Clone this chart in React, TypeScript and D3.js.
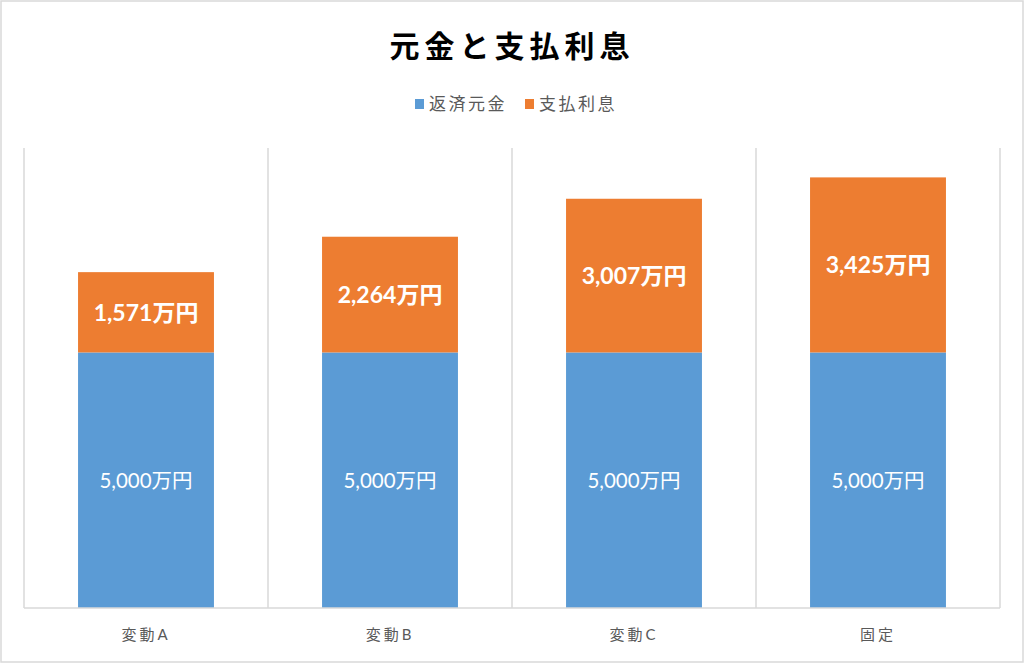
import React from "react";
import * as d3 from "d3";

const categories = ["変動A", "変動B", "変動C", "固定"];
const principal = [5000, 5000, 5000, 5000];
const interest = [1571, 2264, 3007, 3425];
const seriesNames = ["返済元金", "支払利息"];
const yMax = 9000;

const W = 1024;
const H = 663;
const plot = { left: 24, right: 1000, top: 148, bottom: 608 };
const colors = ["#5B9BD5", "#ED7D31"];
const FONT = "Lato, 'Noto Sans CJK JP', sans-serif";
const fmt = d3.format(",");

export default function App() {
  const x = d3
    .scaleBand<string>()
    .domain(categories)
    .range([plot.left, plot.right])
    .paddingInner(0.443)
    .paddingOuter(0.2215);
  const y = d3.scaleLinear().domain([0, yMax]).range([plot.bottom, plot.top]);
  const step = x.step();
  const boundaries = d3.range(categories.length + 1).map((i) => plot.left + i * step);

  const stack = d3
    .stack<number>()
    .keys([0, 1] as any)
    .value((i: number, k: any) => (k === 0 ? principal[i] : interest[i]));
  const stacked = stack(d3.range(categories.length));

  return (
    <div style={{ position: "fixed", left: 0, top: 0 }}>
      <svg width={W} height={H} style={{ display: "block", background: "#fff" }}>
        <rect x={1} y={1} width={W - 2} height={H - 2} fill="#fff" stroke="#D9D9D9" strokeWidth={1.5} />
        <text
          x={W / 2}
          y={57}
          textAnchor="middle"
          fontFamily="'Noto Sans CJK JP', sans-serif"
          fontWeight={700}
          fontSize={30}
          letterSpacing={5}
          fill="#000"
        >
          元金と支払利息
        </text>
        {/* legend */}
        {seriesNames.map((name, i) => {
          const lx = i === 0 ? 415 : 525;
          return (
            <g key={name}>
              <rect x={lx} y={99} width={9} height={10} fill={colors[i]} />
              <text
                x={lx + 14}
                y={110}
                fontFamily="'Noto Sans CJK JP', sans-serif"
                fontSize={17}
                letterSpacing={2.5}
                fill="#595959"
              >
                {name}
              </text>
            </g>
          );
        })}
        {/* gridlines */}
        {boundaries.map((bx, i) => (
          <line key={i} x1={bx} x2={bx} y1={plot.top} y2={plot.bottom} stroke="#D9D9D9" strokeWidth={1.5} />
        ))}
        {/* bars */}
        {stacked.map((s, si) =>
          s.map((d, i) => (
            <rect
              key={`${si}-${i}`}
              x={x(categories[i])}
              y={y(d[1])}
              width={x.bandwidth()}
              height={y(d[0]) - y(d[1])}
              fill={colors[si]}
            />
          ))
        )}
        {/* labels */}
        {stacked.map((s, si) =>
          s.map((d, i) => {
            const v = si === 0 ? principal[i] : interest[i];
            const cy = (y(d[0]) + y(d[1])) / 2;
            return (
              <text
                key={`l${si}-${i}`}
                x={(x(categories[i]) as number) + x.bandwidth() / 2}
                y={cy}
                dy="0.36em"
                textAnchor="middle"
                fontFamily={FONT}
                fontWeight={si === 1 ? 700 : 400}
                fontSize={si === 1 ? 23 : 20.5}
                fill="#fff"
              >
                {fmt(v)}万円
              </text>
            );
          })
        )}
        {/* axis */}
        <line x1={plot.left} x2={plot.right} y1={plot.bottom} y2={plot.bottom} stroke="#D9D9D9" strokeWidth={1.5} />
        {categories.map((c) => (
          <text
            key={c}
            x={(x(c) as number) + x.bandwidth() / 2}
            y={640}
            textAnchor="middle"
            fontFamily={FONT}
            fontSize={15}
            letterSpacing={3}
            fill="#595959"
          >
            {c}
          </text>
        ))}
      </svg>
    </div>
  );
}
